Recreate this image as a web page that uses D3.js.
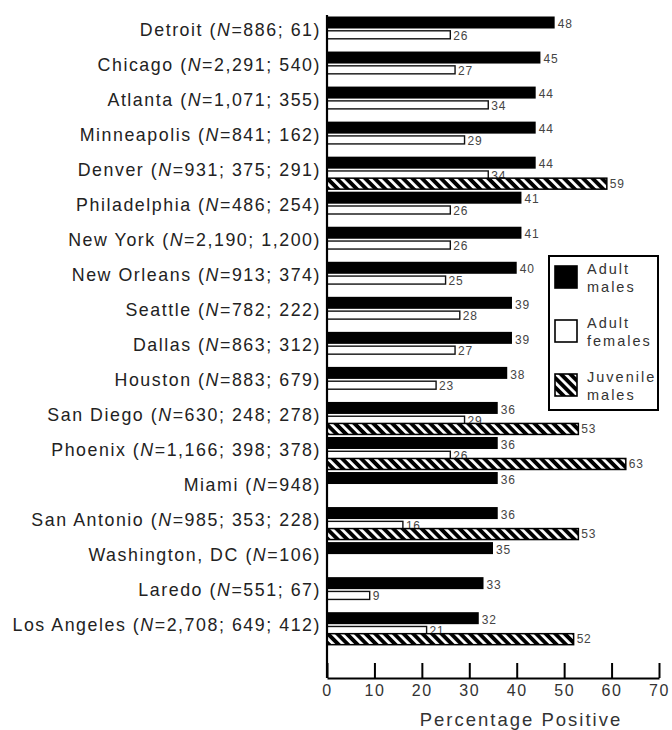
<!DOCTYPE html>
<html>
<head>
<meta charset="utf-8">
<script src="https://cdn.jsdelivr.net/npm/d3@7"></script>
<style>
  html, body { margin: 0; padding: 0; background: #fff; }
  svg { display: block; font-family: "Liberation Sans", Arial, Helvetica, sans-serif; }
</style>
</head>
<body>
<svg id="chart" width="672" height="730"></svg>
<script>
// ---- data ----
const cities = ["Detroit", "Chicago", "Atlanta", "Minneapolis", "Denver", "Philadelphia",
  "New York", "New Orleans", "Seattle", "Dallas", "Houston", "San Diego", "Phoenix",
  "Miami", "San Antonio", "Washington, DC", "Laredo", "Los Angeles"];
const sampleSizes = ["886; 61", "2,291; 540", "1,071; 355", "841; 162", "931; 375; 291",
  "486; 254", "2,190; 1,200", "913; 374", "782; 222", "863; 312", "883; 679",
  "630; 248; 278", "1,166; 398; 378", "948", "985; 353; 228", "106", "551; 67",
  "2,708; 649; 412"];
const adultMales   = [48, 45, 44, 44, 44, 41, 41, 40, 39, 39, 38, 36, 36, 36, 36, 35, 33, 32];
const adultFemales = [26, 27, 34, 29, 34, 26, 26, 25, 28, 27, 23, 29, 26, null, 16, null, 9, 21];
const juvenileMales = [null, null, null, null, 59, null, null, null, null, null, null, 53, 63, null, 53, null, null, 52];
const xTicks = [0, 10, 20, 30, 40, 50, 60, 70];
const legendItems = [["Adult", "males"], ["Adult", "females"], ["Juvenile", "males"]];
const xTitle = "Percentage Positive";

// ---- layout ----
const svg = d3.select("#chart");
const x = d3.scaleLinear().domain([0, 70]).range([327, 659]);
const y = d3.scaleBand().domain(cities).range([16, 16 + 18 * 35.04]).padding(0);
const axisY = 678;

const defs = svg.append("defs");
const pat = defs.append("pattern").attr("id", "hatch")
  .attr("patternUnits", "userSpaceOnUse").attr("width", 6.7).attr("height", 6.7)
  .attr("patternTransform", "rotate(-45)");
pat.append("rect").attr("width", 6.7).attr("height", 6.7).attr("fill", "#000");
pat.append("rect").attr("width", 2.8).attr("height", 6.7).attr("fill", "#fff");

const rows = cities.map((c, i) => ({c, i, m: adultMales[i], f: adultFemales[i], j: juvenileMales[i], n: sampleSizes[i]}));

// category labels
const lab = svg.append("g").selectAll("text").data(rows).join("text")
  .attr("x", 321).attr("y", d => y(d.c) + 13.5)
  .attr("dy", "0.35em").attr("text-anchor", "end")
  .attr("font-size", 17.8).attr("letter-spacing", 1.55).attr("fill", "#222");
lab.append("tspan").text(d => d.c + " (");
lab.append("tspan").attr("font-style", "italic").text("N");
lab.append("tspan").text(d => "=" + d.n + ")");

const valFont = 12;
// male bars
svg.append("g").selectAll("rect").data(rows).join("rect")
  .attr("x", x(0)).attr("y", d => y(d.c) + 0.5)
  .attr("width", d => x(d.m) - x(0)).attr("height", 12)
  .attr("fill", "#000");
svg.append("g").selectAll("text").data(rows).join("text")
  .attr("x", d => x(d.m) + 3).attr("y", d => y(d.c) + 8)
  .attr("dy", "0.35em").attr("font-size", valFont).attr("letter-spacing", 0.8)
  .attr("fill", "#444").text(d => d.m);

// female bars
const fem = rows.filter(d => d.f != null);
svg.append("g").selectAll("rect").data(fem).join("rect")
  .attr("x", x(0)).attr("y", d => y(d.c) + 14.8)
  .attr("width", d => x(d.f) - x(0)).attr("height", 8)
  .attr("fill", "#fff").attr("stroke", "#111").attr("stroke-width", 1.4);
svg.append("g").selectAll("text").data(fem).join("text")
  .attr("x", d => x(d.f) + 3).attr("y", d => y(d.c) + 19.5)
  .attr("dy", "0.35em").attr("font-size", valFont).attr("letter-spacing", 0.8)
  .attr("fill", "#444").text(d => d.f);

// juvenile bars
const juv = rows.filter(d => d.j != null);
svg.append("g").selectAll("rect").data(juv).join("rect")
  .attr("x", x(0)).attr("y", d => y(d.c) + 22)
  .attr("width", d => x(d.j) - x(0)).attr("height", 11)
  .attr("fill", "url(#hatch)").attr("stroke", "#000").attr("stroke-width", 1.5);
svg.append("g").selectAll("text").data(juv).join("text")
  .attr("x", d => x(d.j) + 3).attr("y", d => y(d.c) + 27.5)
  .attr("dy", "0.35em").attr("font-size", valFont).attr("letter-spacing", 0.8)
  .attr("fill", "#444").text(d => d.j);

// axes
svg.append("line").attr("x1", x(0)).attr("x2", x(0)).attr("y1", 15).attr("y2", axisY)
  .attr("stroke", "#000").attr("stroke-width", 2.2);
const ax = svg.append("g").attr("transform", `translate(0,${axisY})`)
  .call(d3.axisBottom(x).tickValues(xTicks).tickSize(-15).tickSizeOuter(0).tickPadding(22));
ax.select(".domain").attr("stroke", "#000").attr("stroke-width", 2.2);
ax.selectAll(".tick line").attr("stroke", "#000").attr("stroke-width", 2);
ax.selectAll(".tick text").attr("font-size", 16).attr("letter-spacing", 1.6)
  .attr("fill", "#333").attr("font-family", "Liberation Sans, Arial, sans-serif")
  .attr("dy", "0").attr("y", 14).attr("dominant-baseline", "middle");

svg.append("text").attr("x", (x(0) + x(70)) / 2 + 28).attr("y", 720)
  .attr("dy", "0.35em").attr("text-anchor", "middle")
  .attr("font-size", 18.5).attr("letter-spacing", 2).attr("fill", "#333").text(xTitle);

// legend
const lg = svg.append("g");
lg.append("rect").attr("x", 549).attr("y", 256).attr("width", 109).attr("height", 154)
  .attr("fill", "#fff").attr("stroke", "#000").attr("stroke-width", 2);
const fills = ["#000", "#fff", "url(#hatch)"];
legendItems.forEach((t, k) => {
  const cy = 277 + k * 54;
  lg.append("rect").attr("x", 555).attr("y", cy - 11).attr("width", 22).attr("height", 22)
    .attr("fill", fills[k]).attr("stroke", "#000").attr("stroke-width", 1.6);
  lg.append("text").attr("x", 587).attr("y", cy - 8).attr("dy", "0.35em")
    .attr("font-size", 14.5).attr("letter-spacing", 2).attr("fill", "#333").text(t[0]);
  lg.append("text").attr("x", 587).attr("y", cy + 10).attr("dy", "0.35em")
    .attr("font-size", 14.5).attr("letter-spacing", 2).attr("fill", "#333").text(t[1]);
});
</script>
</body>
</html>
